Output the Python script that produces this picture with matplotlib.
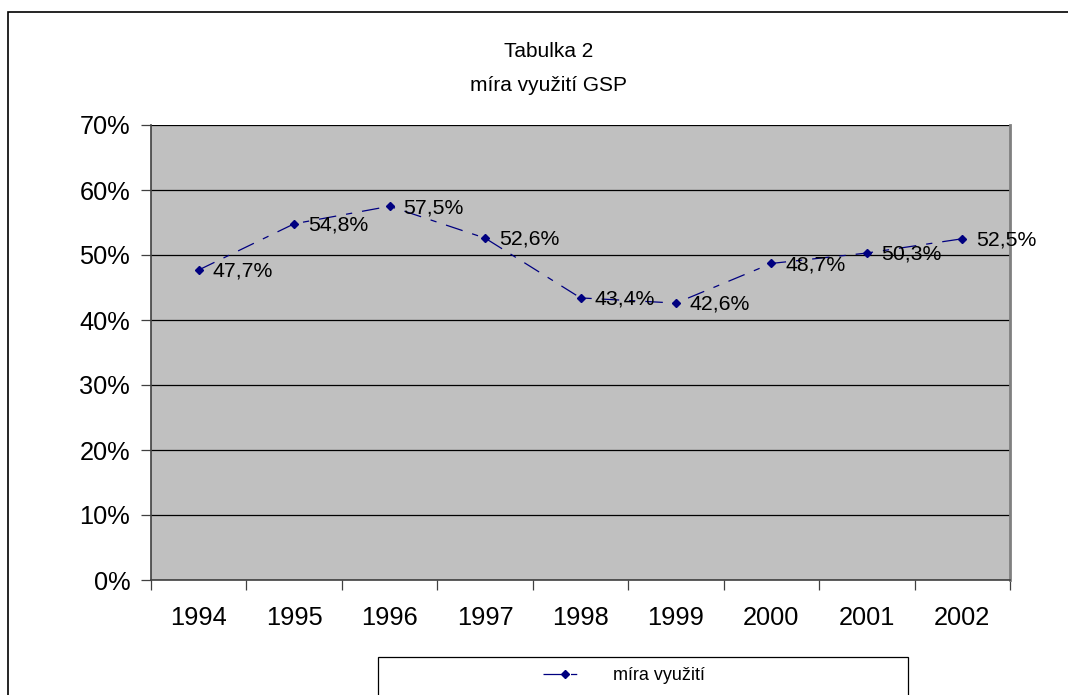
import matplotlib
matplotlib.use("Agg")
import matplotlib.pyplot as plt
from matplotlib.patches import Rectangle
from matplotlib.ticker import FixedLocator, NullFormatter

plt.rcParams['font.family'] = ['Liberation Sans', 'DejaVu Sans']

years = ['1994', '1995', '1996', '1997', '1998', '1999', '2000', '2001', '2002']
mira = [47.7, 54.8, 57.5, 52.6, 43.4, 42.6, 48.7, 50.3, 52.5]
labels = ['47,7%', '54,8%', '57,5%', '52,6%', '43,4%', '42,6%', '48,7%', '50,3%', '52,5%']

W, H = 1068, 695
fig = plt.figure(figsize=(W / 100, H / 100), dpi=100)

# outer chart border (bottom/right run off the picture)
fig.add_artist(Rectangle((8 / W, -0.1), 1.2, (H - 12) / H + 0.1, transform=fig.transFigure,
                         fill=False, edgecolor='black', linewidth=1.2, clip_on=False))

ax = fig.add_axes([151 / W, 115 / H, 859 / W, 455 / H])
ax.set_facecolor('#C0C0C0')

x = list(range(len(years)))
ax.plot(x, mira, color='#000080', linewidth=0.9, linestyle=(0, (14, 8, 5, 8)),
        marker='D', markersize=4.5, label='míra využití', zorder=3)
for xi, yi, lab in zip(x, mira, labels):
    ax.annotate(lab, (xi, yi), xytext=(10, -1), textcoords='offset points',
                va='center', ha='left', fontsize=15.3, zorder=4)

ax.set_xlim(-0.5, len(years) - 0.5)
ax.set_ylim(0, 70)
ax.set_yticks(range(0, 71, 10))
ax.set_yticklabels([f'{v}%' for v in range(0, 71, 10)], fontsize=18.3)
ax.yaxis.grid(True, color='black', linewidth=0.9)
ax.set_axisbelow(True)

# category axis: ticks between categories, labels centered
ax.set_xticks(x)
ax.set_xticklabels(years, fontsize=18.3)
ax.tick_params(axis='x', which='major', length=0, pad=19)
ax.xaxis.set_minor_locator(FixedLocator([i - 0.5 for i in range(len(years) + 1)]))
ax.xaxis.set_minor_formatter(NullFormatter())
ax.tick_params(axis='x', which='minor', length=7, width=0.9, color='#404040')
ax.tick_params(axis='y', length=7, width=0.9, color='#404040', pad=8)

for s in ['left', 'bottom']:
    ax.spines[s].set_color('#404040')
    ax.spines[s].set_linewidth(1.2)
ax.spines['top'].set_visible(False)
ax.spines['right'].set_color('#808080')
ax.spines['right'].set_linewidth(2)

fig.text(549 / W, 1 - 57 / H, 'Tabulka 2', ha='center', va='baseline', fontsize=15)
fig.text(549 / W, 1 - 91 / H, 'míra využití GSP', ha='center', va='baseline', fontsize=15)

# legend box (runs off bottom)
fig.add_artist(Rectangle((378 / W, -0.1), 530 / W, (H - 657) / H + 0.1, transform=fig.transFigure,
                         facecolor='white', edgecolor='black', linewidth=0.9, clip_on=False))
fig.legend(loc='center', bbox_to_anchor=(624 / W, 1 - 676 / H), frameon=False, fontsize=13,
           handlelength=2.4, handletextpad=1.5)

fig.savefig('out.png', dpi=100)
